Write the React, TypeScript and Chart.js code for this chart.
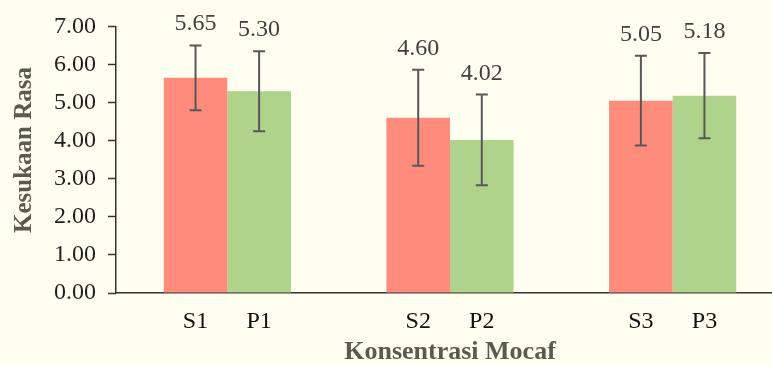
import React, { useEffect, useRef } from "react";
import { Chart, registerables } from "chart.js";

Chart.register(...registerables);

// ---- data ----
const groups = ["1", "2", "3"];
const sLabels = ["S1", "S2", "S3"];
const pLabels = ["P1", "P2", "P3"];
const sValues = [5.65, 4.6, 5.05];
const pValues = [5.3, 4.02, 5.18];
const sErrors = [0.85, 1.26, 1.18];
const pErrors = [1.05, 1.19, 1.12];
const yTicks = [0, 1, 2, 3, 4, 5, 6, 7];
const xTitle = "Konsentrasi Mocaf";
const yTitle = "Kesukaan Rasa";

const SERIF = '"Liberation Serif", "Times New Roman", serif';
const BG = "#FEFEF1";

const barLabels = [sLabels, pLabels];
const errors = [sErrors, pErrors];

const overlayPlugin = {
  id: "overlay",
  afterDatasetsDraw(chart: any) {
    const ctx = chart.ctx as CanvasRenderingContext2D;
    const yScale = chart.scales.y;
    ctx.save();
    chart.data.datasets.forEach((ds: any, di: number) => {
      const meta = chart.getDatasetMeta(di);
      meta.data.forEach((el: any, i: number) => {
        const v = ds.data[i] as number;
        const e = errors[di][i];
        const x = el.x;
        const yTop = yScale.getPixelForValue(v + e);
        const yBot = yScale.getPixelForValue(v - e);
        // error bar
        ctx.strokeStyle = "#585858";
        ctx.lineWidth = 2;
        ctx.beginPath();
        ctx.moveTo(x, yTop);
        ctx.lineTo(x, yBot);
        ctx.moveTo(x - 6, yTop);
        ctx.lineTo(x + 6, yTop);
        ctx.moveTo(x - 6, yBot);
        ctx.lineTo(x + 6, yBot);
        ctx.stroke();
        // value label
        ctx.fillStyle = "#404040";
        ctx.font = `24px ${SERIF}`;
        ctx.textAlign = "center";
        ctx.textBaseline = "alphabetic";
        ctx.fillText(v.toFixed(2), x, yTop - 15);
        // bar category label
        ctx.fillStyle = "#111111";
        ctx.textBaseline = "middle";
        ctx.fillText(barLabels[di][i], x, 322);
      });
    });
    // y axis title
    ctx.save();
    ctx.translate(25, 150);
    ctx.rotate(-Math.PI / 2);
    ctx.fillStyle = "#5a5a50";
    ctx.font = `bold 25px ${SERIF}`;
    ctx.textAlign = "center";
    ctx.textBaseline = "middle";
    ctx.fillText(yTitle, 0, 0);
    ctx.restore();
    ctx.restore();
  },
};

export default function App() {
  const ref = useRef<HTMLCanvasElement>(null);

  useEffect(() => {
    const chart = new Chart(ref.current!, {
      type: "bar",
      data: {
        labels: groups,
        datasets: [
          {
            label: "S",
            data: sValues,
            backgroundColor: "#FF8B7C",
            borderWidth: 0,
            categoryPercentage: 0.571,
            barPercentage: 1,
          },
          {
            label: "P",
            data: pValues,
            backgroundColor: "#AFD38A",
            borderWidth: 0,
            categoryPercentage: 0.571,
            barPercentage: 1,
          },
        ],
      },
      options: {
        responsive: false,
        animation: false,
        layout: { padding: { top: 25, left: 0, right: 0, bottom: 0 } },
        plugins: {
          legend: { display: false },
          tooltip: { enabled: false },
        },
        scales: {
          x: {
            offset: true,
            grid: { display: false, drawTicks: false },
            border: { display: true, color: "#333333", width: 1.5 },
            ticks: { display: false },
            title: {
              display: true,
              text: xTitle,
              color: "#5a5a50",
              font: { family: SERIF, size: 26, weight: "bold" },
              padding: { top: 0, bottom: -3 },
            },
            afterFit: (s: any) => {
              s.height = 72;
            },
          },
          y: {
            min: 0,
            max: 7,
            afterBuildTicks: (s: any) => {
              s.ticks = yTicks.map((v) => ({ value: v }));
            },
            ticks: {
              callback: (v: any) => Number(v).toFixed(2),
              color: "#1f1f1f",
              font: { family: SERIF, size: 24 },
              padding: 12,
            },
            grid: {
              drawOnChartArea: false,
              drawTicks: true,
              tickLength: 8,
              tickColor: "#333333",
              tickWidth: 1.5,
            },
            border: { display: true, color: "#333333", width: 1.5 },
            afterFit: (s: any) => {
              s.width = 116;
            },
          },
        },
      },
      plugins: [overlayPlugin],
    } as any);
    return () => chart.destroy();
  }, []);

  return (
    <div
      style={{
        position: "fixed",
        left: 0,
        top: 0,
        width: 772,
        height: 365,
        overflow: "hidden",
        background: BG,
      }}
    >
      <canvas
        ref={ref}
        width={784}
        height={365}
        style={{ display: "block", width: 784, height: 365 }}
      />
    </div>
  );
}
